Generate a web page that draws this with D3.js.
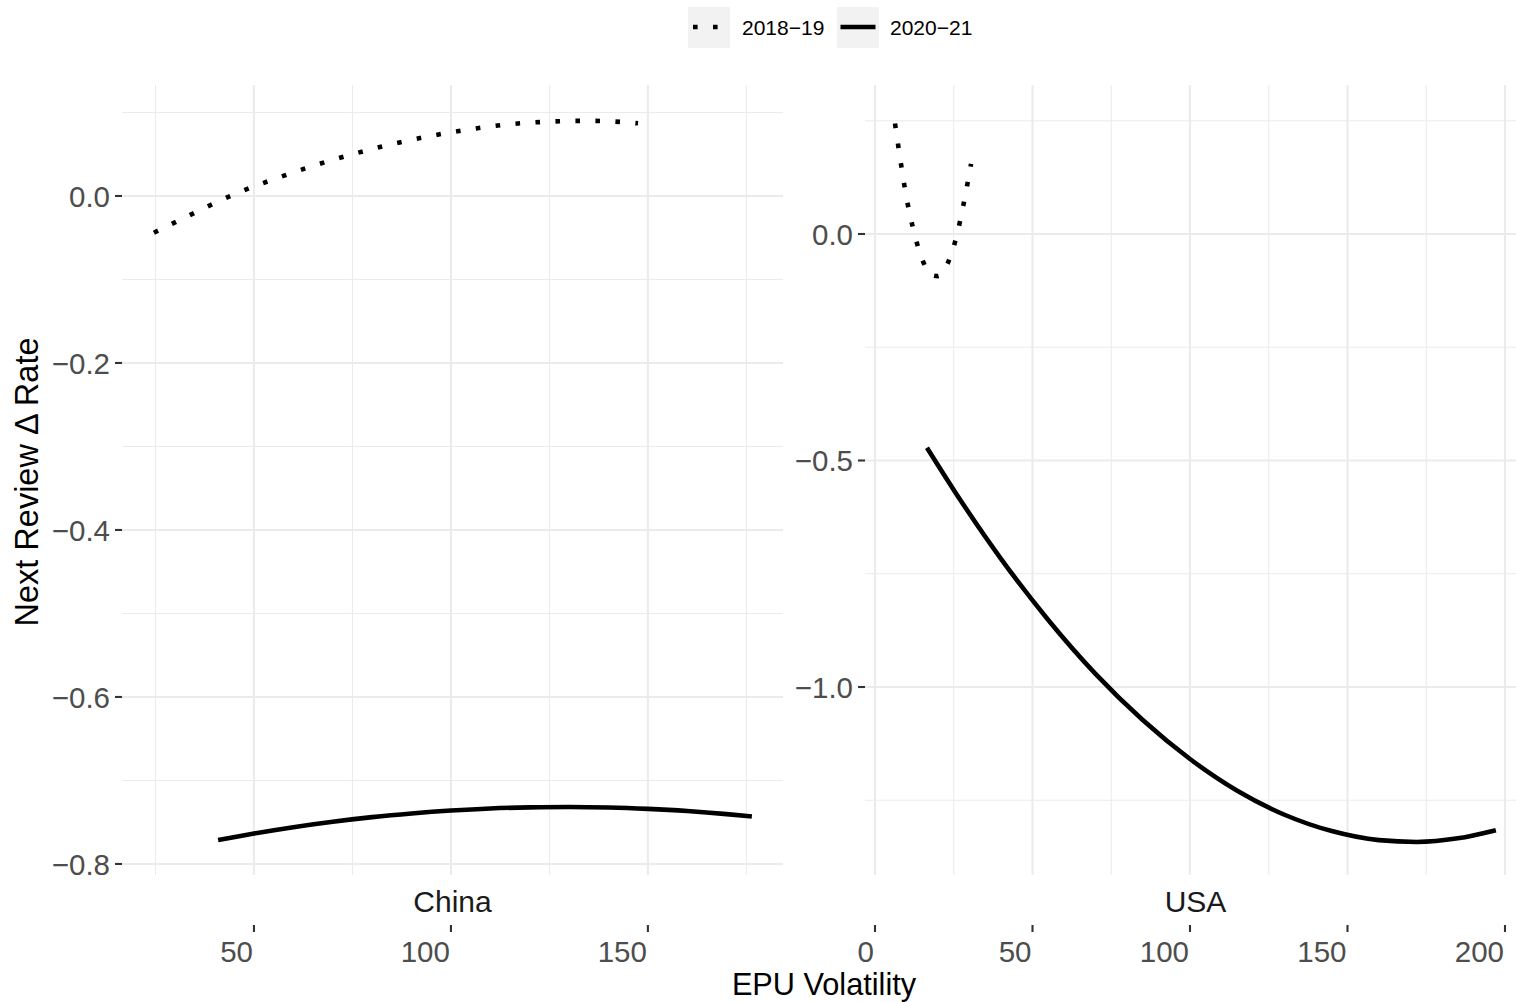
<!DOCTYPE html>
<html>
<head>
<meta charset="utf-8">
<script src="https://cdn.jsdelivr.net/npm/d3@7"></script>
<style>
  html, body { margin: 0; padding: 0; background: #fff; }
  svg { display: block; font-family: "Liberation Sans", Arial, Helvetica, sans-serif; }
</style>
</head>
<body>
<svg id="chart" width="1516" height="1002"></svg>
<script>
// ---------------- data ----------------
const panels = ["China", "USA"];
const seriesNames = ["2018\u221219", "2020\u221221"];

const china1819X = [24.6, 35, 45, 55, 65, 75, 85, 95, 105, 115, 125, 135, 145, 147.5];
const china1819Y = [-0.044, -0.020, 0.002, 0.020, 0.036, 0.050, 0.062, 0.072, 0.080, 0.086, 0.089, 0.090, 0.088, 0.087];

const china2021X = [40.9, 50, 60, 70, 80, 90, 100, 110, 120, 130, 140, 150, 160, 170, 176.4];
const china2021Y = [-0.7713, -0.7635, -0.7559, -0.7494, -0.7439, -0.7395, -0.7360, -0.7335, -0.7322, -0.7317, -0.7323, -0.7340, -0.7366, -0.7403, -0.7432];

const usa1819X = [6.35, 8, 10, 12, 14, 16, 18, 20, 22, 24, 26, 28, 30.5];
const usa1819Y = [0.244, 0.166, 0.080, 0.015, -0.036, -0.072, -0.091, -0.093, -0.079, -0.049, -0.002, 0.062, 0.155];

const usa2021X = [16.5, 25, 40, 55, 70, 85, 100, 115, 130, 145, 160, 172, 185, 197.1];
const usa2021Y = [-0.472, -0.565, -0.717, -0.852, -0.971, -1.073, -1.159, -1.229, -1.282, -1.318, -1.338, -1.342, -1.334, -1.316];

const chinaXTicks = [50, 100, 150];
const chinaXMinor = [25, 75, 125, 175];
const chinaYTicks = [0, -0.2, -0.4, -0.6, -0.8];
const chinaYMinor = [0.1, -0.1, -0.3, -0.5, -0.7];

const usaXTicks = [0, 50, 100, 150, 200];
const usaXMinor = [25, 75, 125, 175];
const usaYTicks = [0, -0.5, -1.0];
const usaYMinor = [0.25, -0.25, -0.75, -1.25];

const xTitle = "EPU Volatility";
const yTitle = "Next Review \u0394 Rate";

// ---------------- layout ----------------
const svg = d3.select("#chart");
const panelTop = 85, panelBottom = 875;

const layouts = [
  { name: panels[0], x0: 122, x1: 783, xDomain: [16.5, 184.3], yDomain: [-0.8132, 0.1329],
    xTicks: chinaXTicks, xMinor: chinaXMinor, yTicks: chinaYTicks, yMinor: chinaYMinor, yFmt: d3.format(".1f"),
    series: [ {x: china1819X, y: china1819Y, dotted: true}, {x: china2021X, y: china2021Y, dotted: false} ] },
  { name: panels[1], x0: 865, x1: 1526, xDomain: [-3.175, 206.67], yDomain: [-1.415, 0.3289],
    xTicks: usaXTicks, xMinor: usaXMinor, yTicks: usaYTicks, yMinor: usaYMinor, yFmt: d3.format(".1f"),
    series: [ {x: usa1819X, y: usa1819Y, dotted: true}, {x: usa2021X, y: usa2021Y, dotted: false} ] }
];

const fmtMinus = s => s.replace("-", "\u2212");
const lineW = 4.6;

layouts.forEach(p => {
  const x = d3.scaleLinear().domain(p.xDomain).range([p.x0, p.x1]);
  const y = d3.scaleLinear().domain(p.yDomain).range([panelBottom, panelTop]);
  const g = svg.append("g");

  // minor grid
  g.selectAll(".vminor").data(p.xMinor).enter().append("line")
    .attr("x1", d => x(d)).attr("x2", d => x(d)).attr("y1", panelTop).attr("y2", panelBottom)
    .attr("stroke", "#ebebeb").attr("stroke-width", 1.05);
  g.selectAll(".hminor").data(p.yMinor).enter().append("line")
    .attr("x1", p.x0).attr("x2", p.x1).attr("y1", d => y(d)).attr("y2", d => y(d))
    .attr("stroke", "#ebebeb").attr("stroke-width", 1.05);
  // major grid
  g.selectAll(".vmajor").data(p.xTicks).enter().append("line")
    .attr("x1", d => x(d)).attr("x2", d => x(d)).attr("y1", panelTop).attr("y2", panelBottom)
    .attr("stroke", "#ebebeb").attr("stroke-width", 2.1);
  g.selectAll(".hmajor").data(p.yTicks).enter().append("line")
    .attr("x1", p.x0).attr("x2", p.x1).attr("y1", d => y(d)).attr("y2", d => y(d))
    .attr("stroke", "#ebebeb").attr("stroke-width", 2.1);

  // series
  const line = d3.line().curve(d3.curveMonotoneX);
  p.series.forEach(s => {
    const pts = s.x.map((v, i) => [x(v), y(s.y[i])]);
    g.append("path").attr("d", line(pts))
      .attr("fill", "none").attr("stroke", "#000")
      .attr("stroke-width", lineW)
      .attr("stroke-linecap", "butt")
      .attr("stroke-dasharray", s.dotted ? "4.6 15.4" : null);
  });

  // y axis ticks and labels
  g.selectAll(".ytick").data(p.yTicks).enter().append("line")
    .attr("x1", p.x0 - 7).attr("x2", p.x0).attr("y1", d => y(d)).attr("y2", d => y(d))
    .attr("stroke", "#333333").attr("stroke-width", 2.1);
  g.selectAll(".ylab").data(p.yTicks).enter().append("text")
    .attr("x", p.x0 - 12).attr("y", d => y(d) + 10.6)
    .attr("text-anchor", "end").attr("font-size", 29.5).attr("fill", "#4d4d4d")
    .text(d => fmtMinus(p.yFmt(d)));

  // strip label (bottom)
  g.append("text").attr("x", (p.x0 + p.x1) / 2).attr("y", 912)
    .attr("text-anchor", "middle").attr("font-size", 30).attr("fill", "#1a1a1a")
    .text(p.name);

  // x axis ticks and labels
  g.selectAll(".xtick").data(p.xTicks).enter().append("line")
    .attr("x1", d => x(d)).attr("x2", d => x(d)).attr("y1", 925).attr("y2", 932)
    .attr("stroke", "#333333").attr("stroke-width", 2.1);
  g.selectAll(".xlab").data(p.xTicks).enter().append("text")
    .attr("x", d => x(d) - 1).attr("y", 962)
    .attr("text-anchor", "end").attr("font-size", 29.5).attr("fill", "#4d4d4d")
    .text(d => d3.format("d")(d));
});

// axis titles
svg.append("text").attr("x", 824).attr("y", 995)
  .attr("text-anchor", "middle").attr("font-size", 30.7).attr("fill", "#000").text(xTitle);
svg.append("text").attr("transform", "translate(38,482) rotate(-90)")
  .attr("text-anchor", "middle").attr("font-size", 32.5).attr("fill", "#000").text(yTitle);

// legend
const legend = svg.append("g");
const keys = [
  { label: seriesNames[0], bx: 688, tx: 742, dotted: true },
  { label: seriesNames[1], bx: 837, tx: 890, dotted: false }
];
keys.forEach(k => {
  legend.append("rect").attr("x", k.bx).attr("y", 7).attr("width", 42).attr("height", 41)
    .attr("fill", "#f2f2f2");
  legend.append("line")
    .attr("x1", k.dotted ? k.bx + 5 : k.bx + 3.5).attr("x2", k.bx + 38.5)
    .attr("y1", 27).attr("y2", 27)
    .attr("stroke", "#000").attr("stroke-width", lineW)
    .attr("stroke-dasharray", k.dotted ? "4.6 15.4" : null);
  legend.append("text").attr("x", k.tx).attr("y", 34.5)
    .attr("font-size", 21).attr("fill", "#000").text(k.label);
});
</script>
</body>
</html>
